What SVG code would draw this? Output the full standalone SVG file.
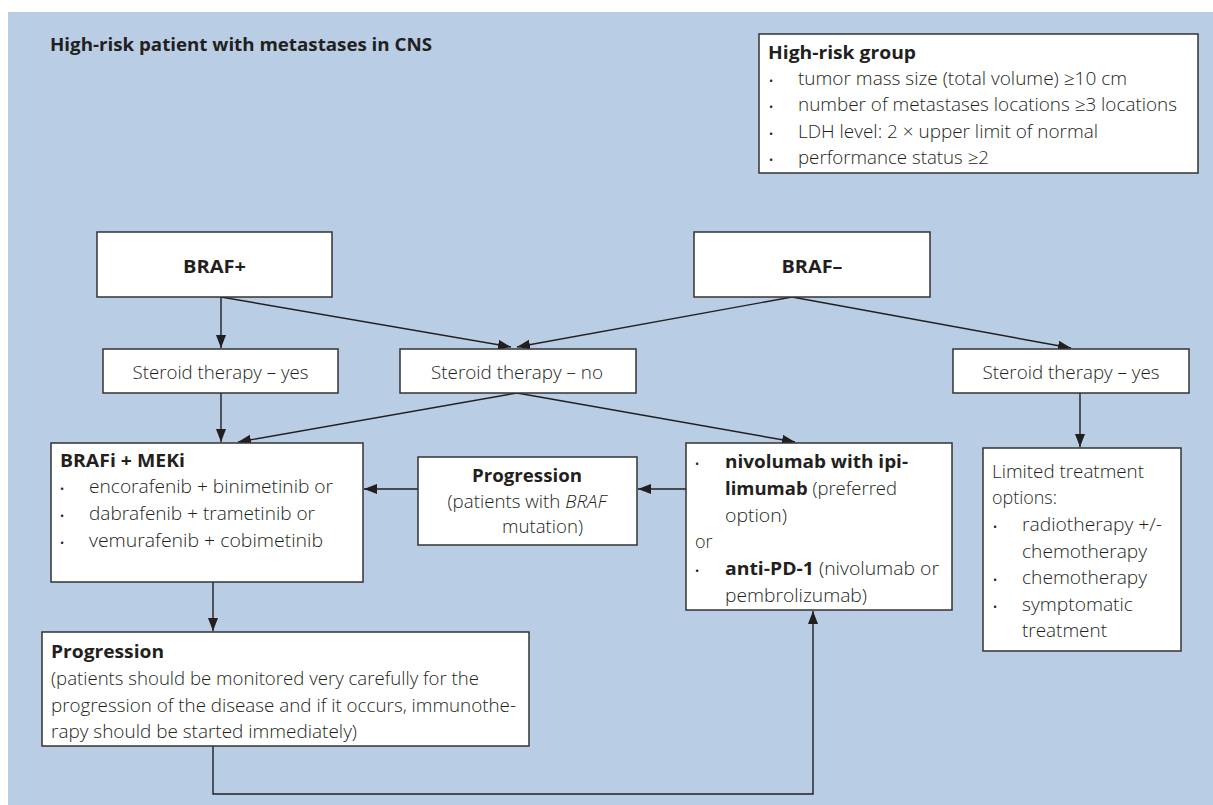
<svg xmlns="http://www.w3.org/2000/svg" width="1213" height="805" viewBox="0 0 1213 805">
  <style>
    .box { fill: #ffffff; stroke: #333333; stroke-width: 1.5; }
    .t { font-family: "Open Sans", "Noto Sans", "Liberation Sans", sans-serif; font-size: 18px; font-weight: 300; fill: #231f20; }
    .b { font-weight: 700; }
    .i { font-style: italic; }
    .c { text-anchor: middle; }
    .dot { font-family: "Open Sans", "Liberation Sans", sans-serif; font-size: 11px; fill: #231f20; text-anchor: middle; }
    .ln { stroke: #231f20; stroke-width: 1.4; fill: none; }
    .arr { marker-end: url(#head); }
  </style>
  <defs>
    <marker id="head" markerUnits="userSpaceOnUse" markerWidth="14" markerHeight="11" refX="13" refY="5" orient="auto">
      <path d="M0,0 L13,5 L0,10 z" fill="#231f20"/>
    </marker>
  </defs>

  <!-- panel background -->
  <rect x="8" y="12" width="1205" height="793" fill="#b9cde5"/>

  <text class="t b" x="50" y="51" font-size="18.5" textLength="382" lengthAdjust="spacingAndGlyphs">High-risk patient with metastases in CNS</text>

  <!-- connectors -->
  <g id="connectors">
    <path class="ln arr" d="M221,297 L221,348"/>
    <path class="ln arr" d="M221,297 L511,347"/>
    <path class="ln arr" d="M792,297 L517,347"/>
    <path class="ln arr" d="M792,297 L1071,348"/>
    <path class="ln arr" d="M1080,393 L1080,447"/>
    <path class="ln arr" d="M221,393 L221,442"/>
    <path class="ln arr" d="M517,393 L238,442"/>
    <path class="ln arr" d="M517,393 L795,442"/>
    <path class="ln arr" d="M686,489 L638,489"/>
    <path class="ln arr" d="M418,489 L364,489"/>
    <path class="ln arr" d="M213,582 L213,631"/>
    <path class="ln arr" d="M213,746 L213,794 L813,794 L813,611"/>
  </g>

  <!-- risk criteria -->
  <g id="high-risk-group">
    <rect class="box" x="759" y="34" width="439" height="139"/>
    <text class="t b" x="768" y="58.5" textLength="148" lengthAdjust="spacingAndGlyphs">High-risk group</text>
    <text class="dot" x="771" y="85">•</text>
    <text class="t" x="798" y="85" textLength="329" lengthAdjust="spacingAndGlyphs">tumor mass size (total volume) ≥10 cm</text>
    <text class="dot" x="771" y="111">•</text>
    <text class="t" x="798" y="111" textLength="379" lengthAdjust="spacingAndGlyphs">number of metastases locations ≥3 locations</text>
    <text class="dot" x="771" y="137.5">•</text>
    <text class="t" x="798" y="137.5" textLength="300" lengthAdjust="spacingAndGlyphs">LDH level: 2 × upper limit of normal</text>
    <text class="dot" x="771" y="164">•</text>
    <text class="t" x="798" y="164" textLength="191" lengthAdjust="spacingAndGlyphs">performance status ≥2</text>
  </g>

  <g id="braf-pos">
    <rect class="box" x="97" y="232" width="235" height="65"/>
    <text class="t b c" x="214.5" y="273" textLength="63" lengthAdjust="spacingAndGlyphs">BRAF+</text>
  </g>

  <g id="braf-neg">
    <rect class="box" x="694" y="232" width="236" height="65"/>
    <text class="t b c" x="812" y="273" textLength="61" lengthAdjust="spacingAndGlyphs">BRAF–</text>
  </g>

  <g id="steroid-yes-left">
    <rect class="box" x="103" y="349" width="235" height="44"/>
    <text class="t c" x="220.5" y="379" textLength="176" lengthAdjust="spacingAndGlyphs">Steroid therapy – yes</text>
  </g>

  <g id="steroid-no">
    <rect class="box" x="400" y="349" width="236" height="44"/>
    <text class="t c" x="517" y="379" textLength="172" lengthAdjust="spacingAndGlyphs">Steroid therapy – no</text>
  </g>

  <g id="steroid-yes-right">
    <rect class="box" x="953" y="349" width="236" height="44"/>
    <text class="t c" x="1071" y="379" textLength="177" lengthAdjust="spacingAndGlyphs">Steroid therapy – yes</text>
  </g>

  <g id="brafi-meki">
    <rect class="box" x="51" y="443" width="312" height="139"/>
    <text class="t b" x="60" y="467" textLength="125" lengthAdjust="spacingAndGlyphs">BRAFi + MEKi</text>
    <text class="dot" x="62" y="493">•</text>
    <text class="t" x="89" y="493" textLength="244" lengthAdjust="spacingAndGlyphs">encorafenib + binimetinib or</text>
    <text class="dot" x="62" y="520">•</text>
    <text class="t" x="89" y="520" textLength="226" lengthAdjust="spacingAndGlyphs">dabrafenib + trametinib or</text>
    <text class="dot" x="62" y="547">•</text>
    <text class="t" x="89" y="547" textLength="234" lengthAdjust="spacingAndGlyphs">vemurafenib + cobimetinib</text>
  </g>

  <g id="progression-braf">
    <rect class="box" x="418" y="457" width="219" height="88"/>
    <text class="t b c" x="527" y="482" textLength="110" lengthAdjust="spacingAndGlyphs">Progression</text>
    <text class="t c" x="527" y="508" textLength="159" lengthAdjust="spacingAndGlyphs">(patients with <tspan class="i">BRAF</tspan></text>
    <text class="t" x="502" y="533" textLength="81" lengthAdjust="spacingAndGlyphs">mutation)</text>
  </g>

  <g id="immunotherapy">
    <rect class="box" x="686" y="443" width="266" height="167"/>
    <text class="dot" x="697" y="468">•</text>
    <text class="t b" x="725" y="468" textLength="183" lengthAdjust="spacingAndGlyphs">nivolumab with ipi-</text>
    <text class="t" x="725" y="495" textLength="172" lengthAdjust="spacingAndGlyphs"><tspan class="b">limumab</tspan> (preferred</text>
    <text class="t" x="725" y="522" textLength="62" lengthAdjust="spacingAndGlyphs">option)</text>
    <text class="t" x="695" y="548">or</text>
    <text class="dot" x="697" y="575">•</text>
    <text class="t" x="725" y="575" textLength="214" lengthAdjust="spacingAndGlyphs"><tspan class="b">anti-PD-1</tspan> (nivolumab or</text>
    <text class="t" x="725" y="602" textLength="142" lengthAdjust="spacingAndGlyphs">pembrolizumab)</text>
  </g>

  <g id="limited-options">
    <rect class="box" x="983" y="448" width="198" height="203"/>
    <text class="t" x="992" y="478" textLength="152" lengthAdjust="spacingAndGlyphs">Limited treatment</text>
    <text class="t" x="992" y="504" textLength="65" lengthAdjust="spacingAndGlyphs">options:</text>
    <text class="dot" x="995" y="531">•</text>
    <text class="t" x="1022" y="531" textLength="140" lengthAdjust="spacingAndGlyphs">radiotherapy +/-</text>
    <text class="t" x="1022" y="557.5" textLength="125" lengthAdjust="spacingAndGlyphs">chemotherapy</text>
    <text class="dot" x="995" y="584">•</text>
    <text class="t" x="1022" y="584" textLength="125" lengthAdjust="spacingAndGlyphs">chemotherapy</text>
    <text class="dot" x="995" y="610.5">•</text>
    <text class="t" x="1022" y="610.5" textLength="111" lengthAdjust="spacingAndGlyphs">symptomatic</text>
    <text class="t" x="1022" y="637" textLength="85" lengthAdjust="spacingAndGlyphs">treatment</text>
  </g>

  <g id="progression-monitor">
    <rect class="box" x="42" y="632" width="487" height="114"/>
    <text class="t b" x="51" y="658" textLength="113" lengthAdjust="spacingAndGlyphs">Progression</text>
    <text class="t" x="51" y="685" textLength="428" lengthAdjust="spacingAndGlyphs">(patients should be monitored very carefully for the</text>
    <text class="t" x="51" y="711.5" textLength="465" lengthAdjust="spacingAndGlyphs">progression of the disease and if it occurs, immunothe-</text>
    <text class="t" x="51" y="738" textLength="306" lengthAdjust="spacingAndGlyphs">rapy should be started immediately)</text>
  </g>
</svg>
